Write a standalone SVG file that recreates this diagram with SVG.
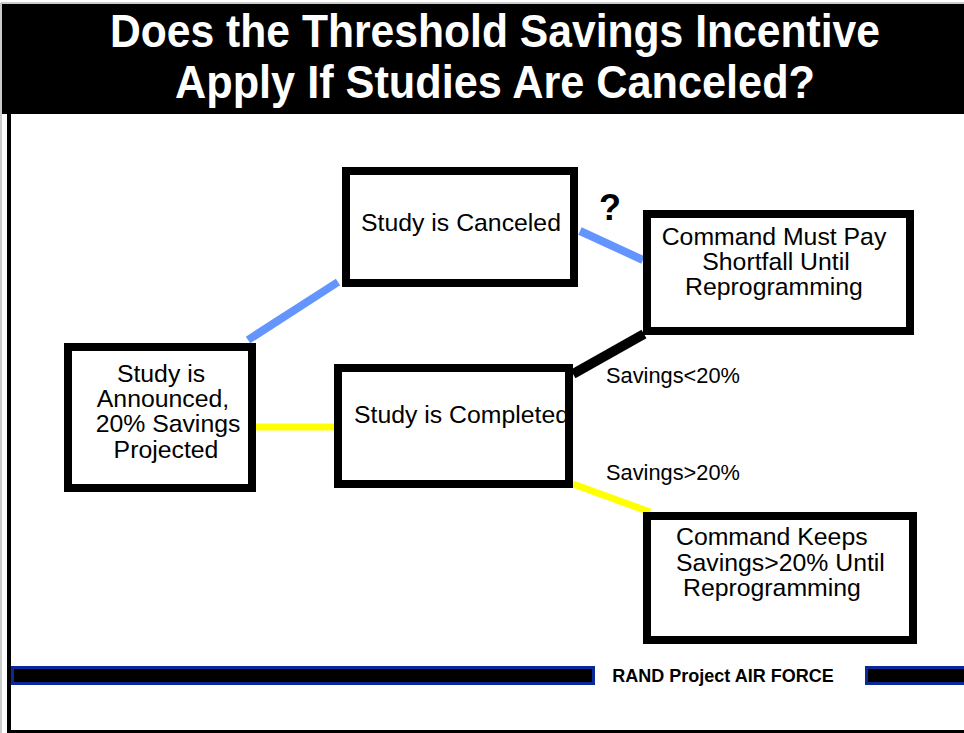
<svg xmlns="http://www.w3.org/2000/svg" width="964" height="733" viewBox="0 0 964 733">
<style>
.box{fill:#fff;stroke:#000;stroke-width:8}
.edge{fill:none;stroke:#000;stroke-width:8}
.t{font-family:"Liberation Sans",Arial,sans-serif;font-size:24.8px;fill:#000}
.lbl{font-family:"Liberation Sans",Arial,sans-serif;font-size:21.8px;fill:#000}
.title{font-family:"Liberation Sans",Arial,sans-serif;font-size:46px;font-weight:bold;fill:#fff}
.blue{stroke:#6495ff;stroke-width:8;fill:none}
.yellow{stroke:#ffff00;stroke-width:7;fill:none}
.black{stroke:#000;stroke-width:10;fill:none}
</style>
<rect width="964" height="733" fill="#fff"/>
<rect x="9" y="6" width="970" height="726" fill="none" stroke="#000" stroke-width="4"/>
<line x1="1" y1="3" x2="1" y2="733" stroke="#999" stroke-width="1"/>
<line x1="1" y1="3" x2="964" y2="3" stroke="#999" stroke-width="1"/>
<g id="header">
<rect x="2" y="4" width="962" height="110" fill="#000"/>
<text class="title" x="110" y="47" textLength="770" lengthAdjust="spacingAndGlyphs">Does the Threshold Savings Incentive</text>
<text class="title" x="175" y="98" textLength="640" lengthAdjust="spacingAndGlyphs">Apply If Studies Are Canceled?</text>
</g>
<g id="connectors">
<line class="blue" x1="248" y1="340" x2="338" y2="282"/>
<line class="blue" x1="580" y1="231" x2="643" y2="260"/>
<line class="yellow" x1="256" y1="427" x2="334" y2="427"/>
<line class="black" x1="573" y1="374" x2="644" y2="334"/>
<line class="yellow" x1="573" y1="484" x2="650" y2="512"/>
<text class="lbl" x="606" y="383">Savings&lt;20%</text>
<text class="lbl" x="606" y="480">Savings&gt;20%</text>
<text x="610" y="220" font-family="Liberation Sans,Arial,sans-serif" font-size="36" font-weight="bold" text-anchor="middle">?</text>
</g>
<g id="announced">
<rect class="box" x="68" y="347" width="184" height="141"/>
<text class="t" text-anchor="middle"><tspan x="161" y="382">Study is</tspan><tspan x="163" y="407">Announced,</tspan><tspan x="168" y="432">20% Savings</tspan><tspan x="166" y="458">Projected</tspan></text>
</g>
<g id="canceled">
<rect class="box" x="346" y="171" width="228" height="112"/>
<text class="t" x="461" y="231" text-anchor="middle">Study is Canceled</text>
</g>
<g id="completed">
<rect x="338" y="368" width="231" height="116" fill="#fff"/>
<text class="t" x="354" y="423">Study is Completed</text>
<rect class="edge" x="338" y="368" width="231" height="116"/>
</g>
<g id="mustpay">
<rect class="box" x="647" y="214" width="263" height="117"/>
<text class="t" text-anchor="middle"><tspan x="774" y="245">Command Must Pay</tspan><tspan x="776" y="270">Shortfall Until</tspan><tspan x="774" y="295">Reprogramming</tspan></text>
</g>
<g id="keeps">
<rect class="box" x="647" y="516" width="266" height="124"/>
<text class="t"><tspan x="676" y="545">Command Keeps</tspan><tspan x="676" y="571">Savings&gt;20% Until</tspan><tspan x="683" y="596">Reprogramming</tspan></text>
</g>
<g id="footer">
<rect x="12.5" y="667.5" width="581" height="16" fill="#000" stroke="#0a2896" stroke-width="3"/>
<rect x="866.5" y="667.5" width="100" height="16" fill="#000" stroke="#0a2896" stroke-width="3"/>
<text x="723" y="682" font-family="Liberation Sans,Arial,sans-serif" font-size="18" font-weight="bold" text-anchor="middle">RAND Project AIR FORCE</text>
</g>
</svg>
